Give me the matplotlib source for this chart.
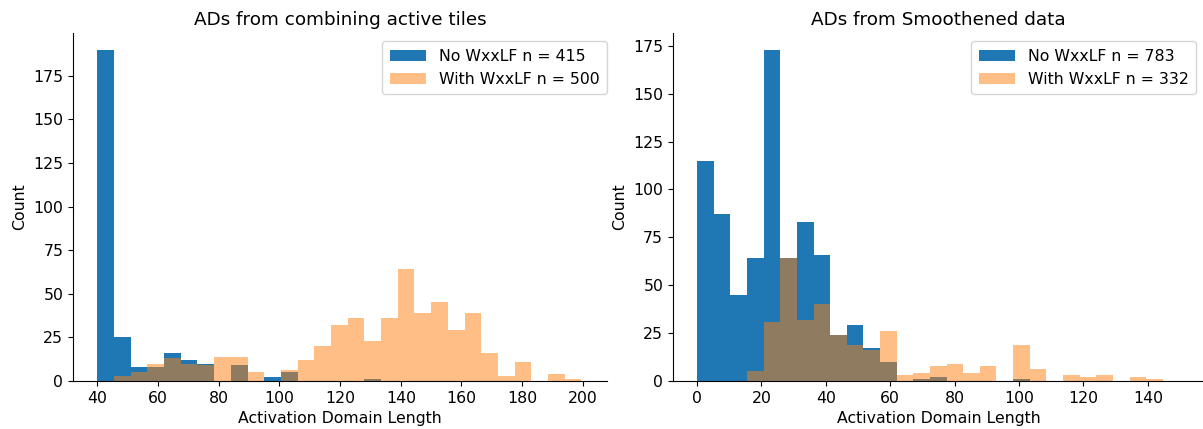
import numpy as np
import matplotlib
matplotlib.use("Agg")
import matplotlib.pyplot as plt

# left panel: ADs from combining active tiles (shared bins, width 5.5 from 40)
left_edges = 40 + 5.5 * np.arange(31)
left_no = [190, 25, 8, 8, 16, 12, 10, 0, 9, 0, 2, 5, 0, 0, 0, 0, 1, 0, 0, 0,
           0, 0, 0, 0, 0, 0, 0, 0, 0, 0]
left_with = [0, 3, 5, 10, 13, 10, 9, 14, 14, 5, 0, 6, 12, 20, 32, 36, 23, 36, 64, 39,
             45, 29, 39, 16, 3, 11, 0, 4, 1, 0]
left_n = (415, 500)

# right panel: ADs from Smoothened data (bins width ~5.17 from 0)
right_edges = (155 / 30) * np.arange(31)
right_no = [115, 87, 45, 64, 173, 64, 83, 66, 24, 29, 17, 10, 0, 1, 2, 0, 0, 0, 0, 1,
            0, 0, 0, 0, 0, 0, 0, 0, 0, 0]
right_with = [0, 0, 0, 5, 31, 64, 32, 40, 24, 19, 16, 26, 3, 4, 8, 9, 4, 8, 0, 19,
              6, 0, 3, 2, 3, 0, 2, 1, 0, 0]
right_n = (783, 332)

plt.rcParams['font.family'] = ['DejaVu Sans']
plt.rcParams['font.size'] = 11.3

fig = plt.figure(figsize=(12.03, 4.29), dpi=100)
ax1 = fig.add_axes([0.0607, 0.112, 0.444, 0.811])
ax2 = fig.add_axes([0.5594, 0.112, 0.4415, 0.811])


def draw(ax, edges, no, with_, n, title, xlim, anchor):
    mids = (edges[:-1] + edges[1:]) / 2
    ax.hist(mids, bins=edges, weights=no, color='C0',
            label="No WxxLF n = %d" % n[0])
    ax.hist(mids, bins=edges, weights=with_, color='C1', alpha=0.5,
            label="With WxxLF n = %d" % n[1])
    ax.set_xlim(*xlim)
    ax.set_title(title, fontsize=13.2)
    ax.set_xlabel("Activation Domain Length")
    ax.set_ylabel("Count")
    ax.spines['top'].set_visible(False)
    ax.spines['right'].set_visible(False)
    ax.set_yticks([0, 25, 50, 75, 100, 125, 150, 175])
    ax.legend(loc='upper right', bbox_to_anchor=anchor, handlelength=2.3,
              borderpad=0.5)


draw(ax1, left_edges, left_no, left_with, left_n,
     "ADs from combining active tiles", (32, 208), (1.015, 1.0))
draw(ax2, right_edges, right_no, right_with, right_n,
     "ADs from Smoothened data", (-7.5, 157.5), (1.0, 1.0))
ax1.set_xticks(np.arange(40, 201, 20))
ax2.set_xticks(np.arange(0, 141, 20))

fig.savefig("out.png", dpi=100)
